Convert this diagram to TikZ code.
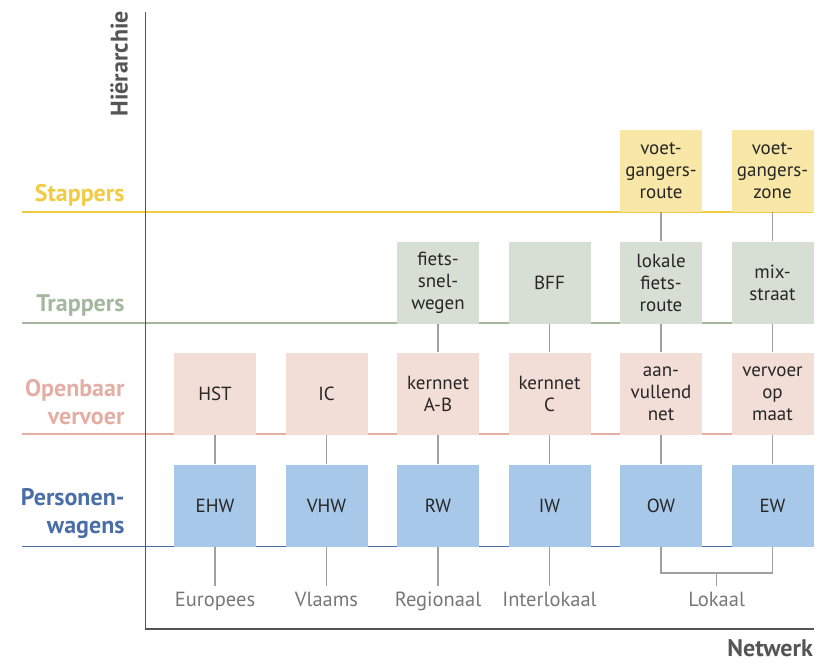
\documentclass[tikz,border=0pt]{standalone}
\usepackage{fontspec}
\setmainfont{PT Sans}
\definecolor{yelT}{HTML}{F2CB45}
\definecolor{yelF}{HTML}{F8E7A6}
\definecolor{grnT}{HTML}{A3B89C}
\definecolor{grnF}{HTML}{D7DFD4}
\definecolor{pnkT}{HTML}{E3AEA4}
\definecolor{pnkF}{HTML}{F3DDD7}
\definecolor{bluT}{HTML}{4A6EA6}
\definecolor{bluF}{HTML}{A7C8E8}
\definecolor{conn}{HTML}{A0A0A0}
\definecolor{axisc}{HTML}{555555}
\definecolor{labc}{HTML}{777777}
\tikzset{
  cell/.style={minimum width=82pt, minimum height=82pt, inner sep=0pt, align=center,
    font=\fontsize{19}{22}\selectfont, text=black!85},
  ybox/.style={cell, fill=yelF},
  gbox/.style={cell, fill=grnF},
  pbox/.style={cell, fill=pnkF},
  bbox/.style={cell, fill=bluF},
  rowlab/.style={anchor=east, align=right, font=\fontsize{24}{28}\selectfont\bfseries},
  netlab/.style={font=\fontsize{20.5}{24}\selectfont, text=labc, anchor=base,
    text height=16pt, text depth=5pt, inner sep=4pt},
  cline/.style={conn, line width=1.3pt},
  axisline/.style={axisc, line width=1.4pt},
}
\begin{document}
\begin{tikzpicture}[x=1pt, y=-1pt]
\useasboundingbox (0,0) rectangle (828,662);
% row lines
\draw[yelT, line width=1.2pt] (22,212) -- (813,212);
\draw[grnT, line width=1.2pt] (22,323) -- (813,323);
\draw[pnkT, line width=1.2pt] (22,434) -- (813,434);
\draw[bluT, line width=1.2pt] (22,546.5) -- (813,546.5);
% axes
\coordinate (ytop) at (145.5,12);
\coordinate (origin) at (145.5,629);
\coordinate (xend) at (814,629);
\draw[axisline] (ytop) -- (origin) -- (xend);
\node[rotate=90, anchor=north east, inner sep=0pt, font=\fontsize{24}{28}\selectfont\bfseries, text=axisc] (hier) at (110,11) {Hiërarchie};
\node[anchor=base east, inner sep=0pt, font=\fontsize{24}{28}\selectfont\bfseries, text=axisc] (netw) at (813,656) {Netwerk};
% row labels
\node[rowlab, text=yelT] (lstap) at (128,195) {Stappers};
\node[rowlab, text=grnT] (ltrap) at (128,305) {Trappers};
\node[rowlab, text=pnkT] (lov) at (128,402) {Openbaar\\vervoer};
\node[rowlab, text=bluT] (lpw) at (128,514) {Personen-\\wagens};
% boxes: blue
\node[bbox] (b1) at (215,505.5) {EHW};
\node[bbox] (b2) at (326.5,505.5) {VHW};
\node[bbox] (b3) at (438,505.5) {RW};
\node[bbox] (b4) at (549.5,505.5) {IW};
\node[bbox] (b5) at (661,505.5) {OW};
\node[bbox] (b6) at (772.5,505.5) {EW};
% pink
\node[pbox] (p1) at (215,393.5) {HST};
\node[pbox] (p2) at (326.5,393.5) {IC};
\node[pbox] (p3) at (438,393.5) {kernnet\\A-B};
\node[pbox] (p4) at (549.5,393.5) {kernnet\\C};
\node[pbox] (p5) at (661,393.5) {aan-\\vullend\\net};
\node[pbox] (p6) at (772.5,393.5) {vervoer\\op\\maat};
% green
\node[gbox] (g3) at (438,282.5) {fiets-\\snel-\\wegen};
\node[gbox] (g4) at (549.5,282.5) {BFF};
\node[gbox] (g5) at (661,282.5) {lokale\\fiets-\\route};
\node[gbox] (g6) at (772.5,282.5) {mix-\\straat};
% yellow
\node[ybox] (y5) at (661,171) {voet-\\gangers-\\route};
\node[ybox] (y6) at (772.5,171) {voet-\\gangers-\\zone};
% connectors
\foreach \i in {1,...,6} { \draw[cline] (b\i.north) -- (p\i.south); }
\foreach \i in {3,...,6} { \draw[cline] (p\i.north) -- (g\i.south); }
\foreach \i in {5,6} { \draw[cline] (g\i.north) -- (y\i.south); }
% network labels
\node[netlab] (n1) at (215,606) {Europees};
\node[netlab] (n2) at (326.5,606) {Vlaams};
\node[netlab] (n3) at (438,606) {Regionaal};
\node[netlab] (n4) at (549.5,606) {Interlokaal};
\node[netlab] (n5) at (716.75,606) {Lokaal};
\foreach \i in {1,...,4} { \draw[cline] (b\i.south) -- (n\i.north); }
\coordinate (k5) at (661,573);
\coordinate (k6) at (772.5,573);
\coordinate (km) at (716.75,573);
\draw[cline] (b5.south) -- (k5) -- (k6) -- (b6.south);
\draw[cline] (km) -- (n5.north);
\end{tikzpicture}
\end{document}
